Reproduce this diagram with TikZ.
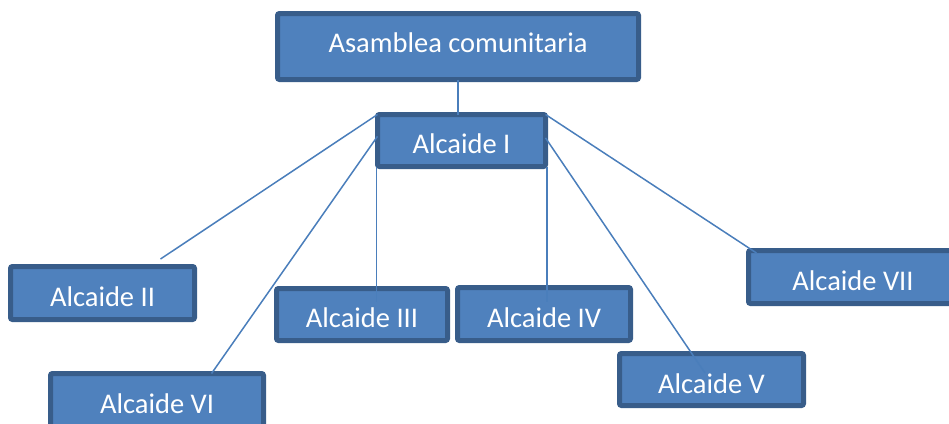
\documentclass[tikz,border=0pt]{standalone}
\usepackage{fontspec}
\setmainfont{Carlito}
\usetikzlibrary{calc}
\definecolor{boxfill}{HTML}{4F81BD}
\definecolor{boxedge}{HTML}{385D8A}
\definecolor{linkcol}{HTML}{4A7EBB}
\newcommand{\shifttxt}[2]{\raisebox{#1}[\height][\depth]{#2}}
\begin{document}
\begin{tikzpicture}[x=1pt,y=-1pt,
  box/.style={draw=boxedge, fill=boxfill, line width=5pt, rounded corners=2pt,
    outer sep=0pt, inner sep=0pt, text=white,
    font=\fontsize{28.5}{34}\selectfont},
  link/.style={draw=linkcol, line width=1.5pt}]
\useasboundingbox (0,0) rectangle (949,423);
\clip (0,0) rectangle (949,423);
\node[box, minimum width=361pt, minimum height=66pt] (top) at (458,46.5) {\shifttxt{3.5pt}{Asamblea comunitaria}};
\node[box, minimum width=168pt, minimum height=52pt] (a1) at (461.5,140.5) {\shifttxt{-3.5pt}{Alcaide I}};
\node[box, minimum width=184pt, minimum height=53pt] (a2) at (102.5,293) {\shifttxt{-4pt}{Alcaide II}};
\node[box, minimum width=171pt, minimum height=52pt] (a3) at (362,314.5) {\shifttxt{-3pt}{Alcaide III}};
\node[box, minimum width=173pt, minimum height=53pt] (a4) at (544,314) {\shifttxt{-3.5pt}{Alcaide IV}};
\node[box, minimum width=184pt, minimum height=52pt] (a5) at (711.5,379.5) {\shifttxt{-4.5pt}{Alcaide V}};
\node[box, minimum width=213pt, minimum height=54pt] (a6) at (157,400.5) {\shifttxt{-3pt}{Alcaide VI}};
\node[box, minimum width=209pt, minimum height=53pt] (a7) at (853,277) {\shifttxt{-4pt}{Alcaide VII}};
\coordinate (e2) at (160.5,259);
\coordinate (s6) at ($(a1.north west)!0.42!(a1.south west)$);
\coordinate (e6) at ($(a6.north west)!0.756!(a6.north east)$);
\coordinate (s5) at ($(a1.north east)!0.45!(a1.south east)$);
\coordinate (e5) at ($(a5.north)+(-6.5,19.5)$);
\coordinate (e7) at ($(a7.north west)+(8,2.5)$);
\coordinate (s3) at ($(a1.south west)+(-0.8,0)$);
\coordinate (s4) at ($(a1.south east)+(1.5,0)$);
\draw[link] (top.south) -- (top.south |- a1.north);
\draw[link] (a1.north west) -- (e2);
\draw[link] (s6) -- (e6);
\draw[link, shorten >=-13pt] (s3) -- (s3 |- a3.north);
\draw[link, shorten >=-14pt] (s4) -- (s4 |- a4.north);
\draw[link] (s5) -- (e5);
\draw[link] (a1.north east) -- (e7);
\end{tikzpicture}
\end{document}
